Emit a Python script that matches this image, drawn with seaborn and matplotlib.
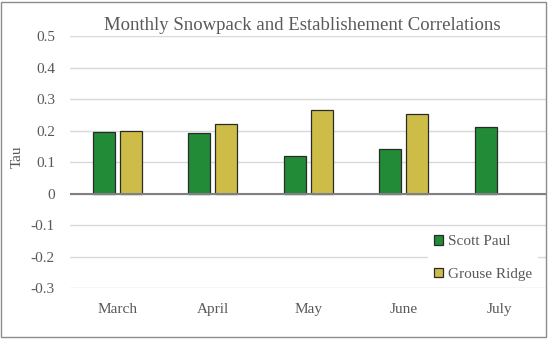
import matplotlib
matplotlib.use("Agg")
import matplotlib.pyplot as plt
import seaborn as sns
import pandas as pd
from matplotlib.patches import Rectangle

# ---- data ----
months = ["March", "April", "May", "June", "July"]
scott_paul = [0.195, 0.192, 0.120, 0.143, 0.212]
grouse_ridge = [0.200, 0.222, 0.264, 0.254, None]
sites = ["Scott Paul", "Grouse Ridge"]
y_ticks = [0.5, 0.4, 0.3, 0.2, 0.1, 0.0, -0.1, -0.2, -0.3]
y_tick_labels = ["0.5", "0.4", "0.3", "0.2", "0.1", "0", "-0.1", "-0.2", "-0.3"]
title = "Monthly Snowpack and Establishement Correlations"
y_label = "Tau"

rows = []
for m, a, b in zip(months, scott_paul, grouse_ridge):
    if a is not None:
        rows.append({"month": m, "site": sites[0], "tau": a})
    if b is not None:
        rows.append({"month": m, "site": sites[1], "tau": b})
df = pd.DataFrame(rows)

sns.set_theme(style="white")
plt.rcParams["font.family"] = ["Liberation Serif", "DejaVu Serif"]

TXT = "#595959"
fig = plt.figure(figsize=(5.5, 3.41), dpi=100)
ax = fig.add_axes([69.5 / 550, (341 - 288.3) / 341, 477.5 / 550, (288.3 - 36) / 341])

sns.barplot(data=df, x="month", y="tau", hue="site", order=months, hue_order=sites,
            palette={"Scott Paul": "#228b38", "Grouse Ridge": "#cdbd48"},
            saturation=1, width=0.565, gap=0.2, errorbar=None, edgecolor="#2a2a2a",
            linewidth=0.9, ax=ax, zorder=3)

ax.set_ylim(-0.3, 0.5)
ax.set_xlim(-0.5, len(months) - 0.5)
ax.set_yticks(y_ticks)
ax.set_yticklabels(y_tick_labels)
ax.yaxis.grid(True, color="#d9d9d9", linewidth=1.0, zorder=0)
ax.set_axisbelow(True)
ax.axhline(0, color="#808080", linewidth=1.5, zorder=4)
for s in ax.spines.values():
    s.set_visible(False)

ax.tick_params(axis="y", length=0, pad=10.5, labelsize=11, labelcolor=TXT)
ax.tick_params(axis="x", length=0, pad=10.5, labelsize=11, labelcolor=TXT)
ax.set_xlabel("")
ax.set_ylabel(y_label, fontsize=11, color=TXT)
ax.yaxis.set_label_coords(-0.095, 0.52)

fig.text(302 / 550, 1 - 25 / 341, title, ha="center", va="center",
         fontsize=13.5, color=TXT)

leg = ax.legend(loc="center left", bbox_to_anchor=(428 / 550, 1 - 258 / 341),
                bbox_transform=fig.transFigure, frameon=True, fontsize=11,
                handlelength=0.6, handleheight=0.6, handletextpad=0.3,
                labelspacing=1.25, borderpad=0.4, borderaxespad=0)
leg.get_frame().set_facecolor("white")
leg.get_frame().set_edgecolor("none")
leg.get_frame().set_alpha(1)
leg.get_frame().set_boxstyle("square", pad=0)
for t in leg.get_texts():
    t.set_color(TXT)

fig.patches.append(Rectangle((1 / 550, 1 - 337 / 341), 545 / 550, 335 / 341,
                             transform=fig.transFigure, fill=False,
                             edgecolor="#8c8c8c", linewidth=1.0))

fig.savefig("out.png", dpi=100, facecolor="white")
